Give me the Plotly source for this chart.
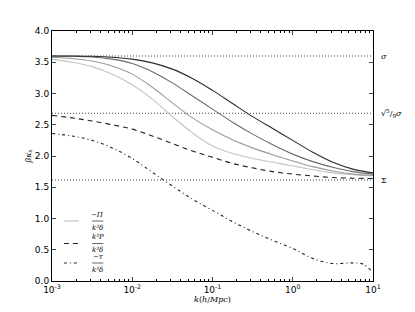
import numpy as np
import plotly.graph_objects as go

# log10(k) grid
logk = [-3, -2.75, -2.5, -2.25, -2, -1.75, -1.5, -1.25, -1, -0.75, -0.5, -0.25, 0, 0.25, 0.5, 0.75, 1]
k = [10 ** v for v in logk]

pi_light = [3.55, 3.50, 3.43, 3.31, 3.14, 2.91, 2.63, 2.37, 2.16, 2.04, 1.96, 1.90, 1.84, 1.78, 1.73, 1.70, 1.68]
pi_mid = [3.58, 3.56, 3.52, 3.44, 3.31, 3.10, 2.85, 2.61, 2.42, 2.26, 2.13, 2.02, 1.92, 1.83, 1.76, 1.71, 1.69]
pi_dark = [3.60, 3.595, 3.585, 3.55, 3.48, 3.35, 3.17, 2.96, 2.75, 2.54, 2.35, 2.18, 2.03, 1.91, 1.82, 1.75, 1.71]
pi_black = [3.60, 3.60, 3.595, 3.58, 3.55, 3.49, 3.39, 3.24, 3.05, 2.84, 2.63, 2.44, 2.25, 2.06, 1.90, 1.79, 1.73]
pressure = [2.65, 2.61, 2.56, 2.50, 2.43, 2.32, 2.20, 2.08, 1.98, 1.88, 1.81, 1.75, 1.71, 1.68, 1.655, 1.645, 1.64]

logk_tau = [-3, -2.75, -2.5, -2.25, -2, -1.75, -1.5, -1.25, -1, -0.75, -0.5, -0.25, 0, 0.25, 0.5, 0.75, 0.875, 1]
k_tau = [10 ** v for v in logk_tau]
tau = [2.36, 2.32, 2.25, 2.13, 1.96, 1.74, 1.52, 1.31, 1.13, 0.95, 0.79, 0.65, 0.52, 0.36, 0.28, 0.29, 0.27, 0.14]

sigma = 3.6
sigma_mid = 3.6 * np.sqrt(5 / 9)
Sigma = 1.616

xticks = [1e-3, 1e-2, 1e-1, 1, 10]
xticktext = ["10<sup>-3</sup>", "10<sup>-2</sup>", "10<sup>-1</sup>", "10<sup>0</sup>", "10<sup>1</sup>"]
yticks = [0.0, 0.5, 1.0, 1.5, 2.0, 2.5, 3.0, 3.5, 4.0]

fig = go.Figure()

for val in [sigma, sigma_mid, Sigma]:
    fig.add_trace(go.Scatter(x=[1e-3, 10], y=[val, val], mode="lines",
                             line=dict(color="#444444", width=1, dash="1px,2px"), showlegend=False))

TAU_DASH = "3px,3px,1px,3px"
curves = [
    (k, pi_light, "#c4c4c4", "solid"),
    (k, pi_mid, "#9a9a9a", "solid"),
    (k, pi_dark, "#6a6a6a", "solid"),
    (k, pi_black, "#2a2a2a", "solid"),
    (k, pressure, "#222222", "5px,4px"),
    (k_tau, tau, "#222222", TAU_DASH),
]
for xs, ys, col, dash in curves:
    fig.add_trace(go.Scatter(x=xs, y=ys, mode="lines",
                             line=dict(color=col, width=1.1, dash=dash, shape="spline", smoothing=1.0),
                             showlegend=False))

minor_vals = []
for d in range(-3, 1):
    for m in range(2, 10):
        minor_vals.append(m * 10 ** d)

fig.update_layout(
    width=415, height=312,
    margin=dict(l=52, r=42, t=31, b=31, autoexpand=False),
    plot_bgcolor="white", paper_bgcolor="white",
    font=dict(family="DejaVu Sans", size=9, color="black"),
    xaxis=dict(type="log", range=[-3, 1], tickvals=xticks, ticktext=xticktext, automargin=False,
               ticks="inside", ticklen=4, showgrid=False, zeroline=False,
               showline=True, linecolor="black", linewidth=1, mirror="ticks",
               minor=dict(tickvals=minor_vals, ticks="inside", ticklen=2, tickcolor="black", showgrid=False),
               title=dict(text="<i>k</i>(<i>h</i>/<i>Mpc</i>)", font=dict(family="DejaVu Serif", size=8), standoff=2)),
    yaxis=dict(range=[0, 4], tickvals=yticks, ticktext=[f"{v:.1f}" for v in yticks], automargin=False,
               ticks="inside", ticklen=4, showgrid=False, zeroline=False,
               showline=True, linecolor="black", linewidth=1, mirror="ticks",
               title=dict(text="<i>βκ<sub>s</sub></i>", font=dict(family="DejaVu Serif", size=8), standoff=2)),
)

# right-side labels
for val, txt in [(sigma, "<i>σ</i>"), (sigma_mid, "√<sup>5</sup>/<sub>9</sub><i>σ</i>"), (Sigma, "Σ")]:
    fig.add_annotation(x=1.02, y=val, xref="paper", yref="y", text=txt, showarrow=False,
                       xanchor="left", yanchor="middle", font=dict(family="DejaVu Serif", size=8))

# legend (manual)
legend_items = [
    ("#c4c4c4", "solid", "−Π", "k³δ", 0.240),
    ("#222222", "5px,4px", "k³P", "k³δ", 0.150),
    ("#222222", TAU_DASH, "−τ", "k³δ", 0.072),
]
for col, dash, num, den, yp in legend_items:
    fig.add_shape(type="line", xref="paper", yref="paper", x0=0.037, x1=0.084, y0=yp, y1=yp,
                  line=dict(color=col, width=1.2, dash=dash))
    fig.add_shape(type="line", xref="paper", yref="paper", x0=0.125, x1=0.160, y0=yp, y1=yp,
                  line=dict(color="black", width=0.6))
    fig.add_annotation(x=0.1425, y=yp + 0.002, xref="paper", yref="paper", text=f"<i>{num}</i>",
                       showarrow=False, xanchor="center", yanchor="bottom",
                       font=dict(family="DejaVu Serif", size=7))
    fig.add_annotation(x=0.1425, y=yp - 0.002, xref="paper", yref="paper", text=f"<i>{den}</i>",
                       showarrow=False, xanchor="center", yanchor="top",
                       font=dict(family="DejaVu Serif", size=7))

fig.write_html("out.html", config={"displayModeBar": False},
               post_script="document.body.style.margin='0';document.body.style.overflow='hidden';")
